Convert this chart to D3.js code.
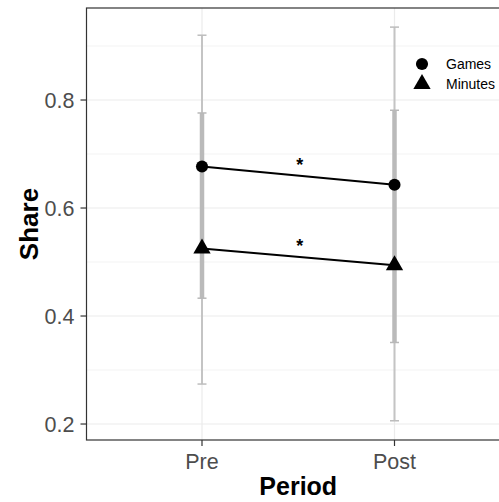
<!DOCTYPE html>
<html><head><meta charset="utf-8">
<script src="https://cdn.jsdelivr.net/npm/d3@7"></script>
<style>body{margin:0;background:#fff}svg{display:block;font-family:"Liberation Sans",Arial,Helvetica,sans-serif}</style>
</head><body><svg id="c" width="499" height="502"></svg>
<script>
const periods = ["Pre", "Post"];
const series = ["Games", "Minutes"];
const gamesMean = [0.677, 0.643];
const minutesMean = [0.525, 0.494];
const innerLow = [0.433, 0.351];
const innerHigh = [0.776, 0.781];
const outerLow = [0.274, 0.206];
const outerHigh = [0.920, 0.935];
const yTicks = [0.2, 0.4, 0.6, 0.8];
const yMinor = [0.3, 0.5, 0.7, 0.9];
const sigLabels = ["*", "*"];

const svg = d3.select("#c");
const L = 86.5, T = 8, B = 440, R = 510;
const xIdx = d3.scaleLinear().domain([0.4, 2.6]).range([L, R]);
const x = p => xIdx(periods.indexOf(p) + 1);
const y = d3.scaleLinear().domain([0.1704, 0.9704]).range([B, T]);

const g = svg.append("g");
g.selectAll(".mn").data(yMinor).join("line").attr("x1", L).attr("x2", R)
  .attr("y1", d => y(d)).attr("y2", d => y(d)).attr("stroke", "#ebebeb").attr("stroke-width", 0.6);
g.selectAll(".mj").data(yTicks).join("line").attr("x1", L).attr("x2", R)
  .attr("y1", d => y(d)).attr("y2", d => y(d)).attr("stroke", "#ebebeb").attr("stroke-width", 1.2);
g.selectAll(".vx").data(periods).join("line").attr("x1", d => x(d)).attr("x2", d => x(d))
  .attr("y1", T).attr("y2", B).attr("stroke", "#ebebeb").attr("stroke-width", 1.2);

const bars = periods.map((p, i) => ({p, il: innerLow[i], ih: innerHigh[i], ol: outerLow[i], oh: outerHigh[i]}));
const eb = g.append("g");
bars.forEach(d => {
  const cx = x(d.p);
  eb.append("line").attr("x1", cx).attr("x2", cx).attr("y1", y(d.ol)).attr("y2", y(d.oh))
    .attr("stroke", "#c4c4c4").attr("stroke-width", 2);
  [d.ol, d.oh].forEach(v => eb.append("line").attr("x1", cx - 4.5).attr("x2", cx + 4.5)
    .attr("y1", y(v)).attr("y2", y(v)).attr("stroke", "#bdbdbd").attr("stroke-width", 1.5));
  eb.append("line").attr("x1", cx).attr("x2", cx).attr("y1", y(d.il)).attr("y2", y(d.ih))
    .attr("stroke", "#bababa").attr("stroke-width", 4.5);
  [d.il, d.ih].forEach(v => eb.append("line").attr("x1", cx - 4.5).attr("x2", cx + 4.5)
    .attr("y1", y(v)).attr("y2", y(v)).attr("stroke", "#b8b8b8").attr("stroke-width", 1.5));
});

const data = series.map((s, si) => ({
  name: s,
  pts: periods.map((p, i) => ({p, m: si === 0 ? gamesMean[i] : minutesMean[i]}))
}));

const line = d3.line().x(d => x(d.p)).y(d => y(d.m));
data.forEach(s => g.append("path").attr("d", line(s.pts)).attr("fill", "none")
  .attr("stroke", "#000").attr("stroke-width", 2));

const sym = [d3.symbol().type(d3.symbolCircle).size(115), d3.symbol().type(d3.symbolTriangle).size(130)];
data.forEach((s, si) => g.selectAll(null).data(s.pts).join("path")
  .attr("d", sym[si]).attr("transform", d => `translate(${x(d.p)},${y(d.m)})`).attr("fill", "#000"));

data.forEach((s, si) => {
  const mx = (x(periods[0]) + x(periods[1])) / 2;
  const my = (y(s.pts[0].m) + y(s.pts[1].m)) / 2;
  g.append("text").attr("x", mx + 1.5).attr("y", my - 5).attr("text-anchor", "middle")
    .attr("font-size", 18).attr("font-weight", "bold").text(sigLabels[si]);
});

svg.append("rect").attr("x", L).attr("y", T).attr("width", R - L).attr("height", B - T)
  .attr("fill", "none").attr("stroke", "#333").attr("stroke-width", 1.2);

const ya = svg.append("g");
yTicks.forEach(v => {
  ya.append("line").attr("x1", L - 6).attr("x2", L).attr("y1", y(v)).attr("y2", y(v)).attr("stroke", "#333").attr("stroke-width", 1.2);
  ya.append("text").attr("x", L - 12).attr("y", y(v)).attr("dy", "0.36em").attr("text-anchor", "end")
    .attr("font-size", 21.5).attr("fill", "#4d4d4d").text(v.toFixed(1));
});
periods.forEach(p => {
  ya.append("line").attr("x1", x(p)).attr("x2", x(p)).attr("y1", B).attr("y2", B + 6).attr("stroke", "#333").attr("stroke-width", 1.2);
  ya.append("text").attr("x", x(p)).attr("y", 468.5).attr("text-anchor", "middle")
    .attr("font-size", 21.5).attr("fill", "#4d4d4d").text(p);
});
svg.append("text").attr("x", (L + R) / 2).attr("y", 495).attr("text-anchor", "middle")
  .attr("font-size", 25).attr("font-weight", "bold").text("Period");
svg.append("text").attr("transform", `translate(38,${(T + B) / 2}) rotate(-90)`).attr("text-anchor", "middle")
  .attr("font-size", 26).attr("font-weight", "bold").text("Share");

series.forEach((s, i) => {
  const ly = 64 + i * 20;
  svg.append("path").attr("d", d3.symbol().type(i ? d3.symbolTriangle : d3.symbolCircle).size(i ? 130 : 115)())
    .attr("transform", `translate(422,${ly})`).attr("fill", "#000");
  svg.append("text").attr("x", 446).attr("y", ly).attr("dy", "0.36em").attr("font-size", 14).text(s);
});
</script></body></html>
